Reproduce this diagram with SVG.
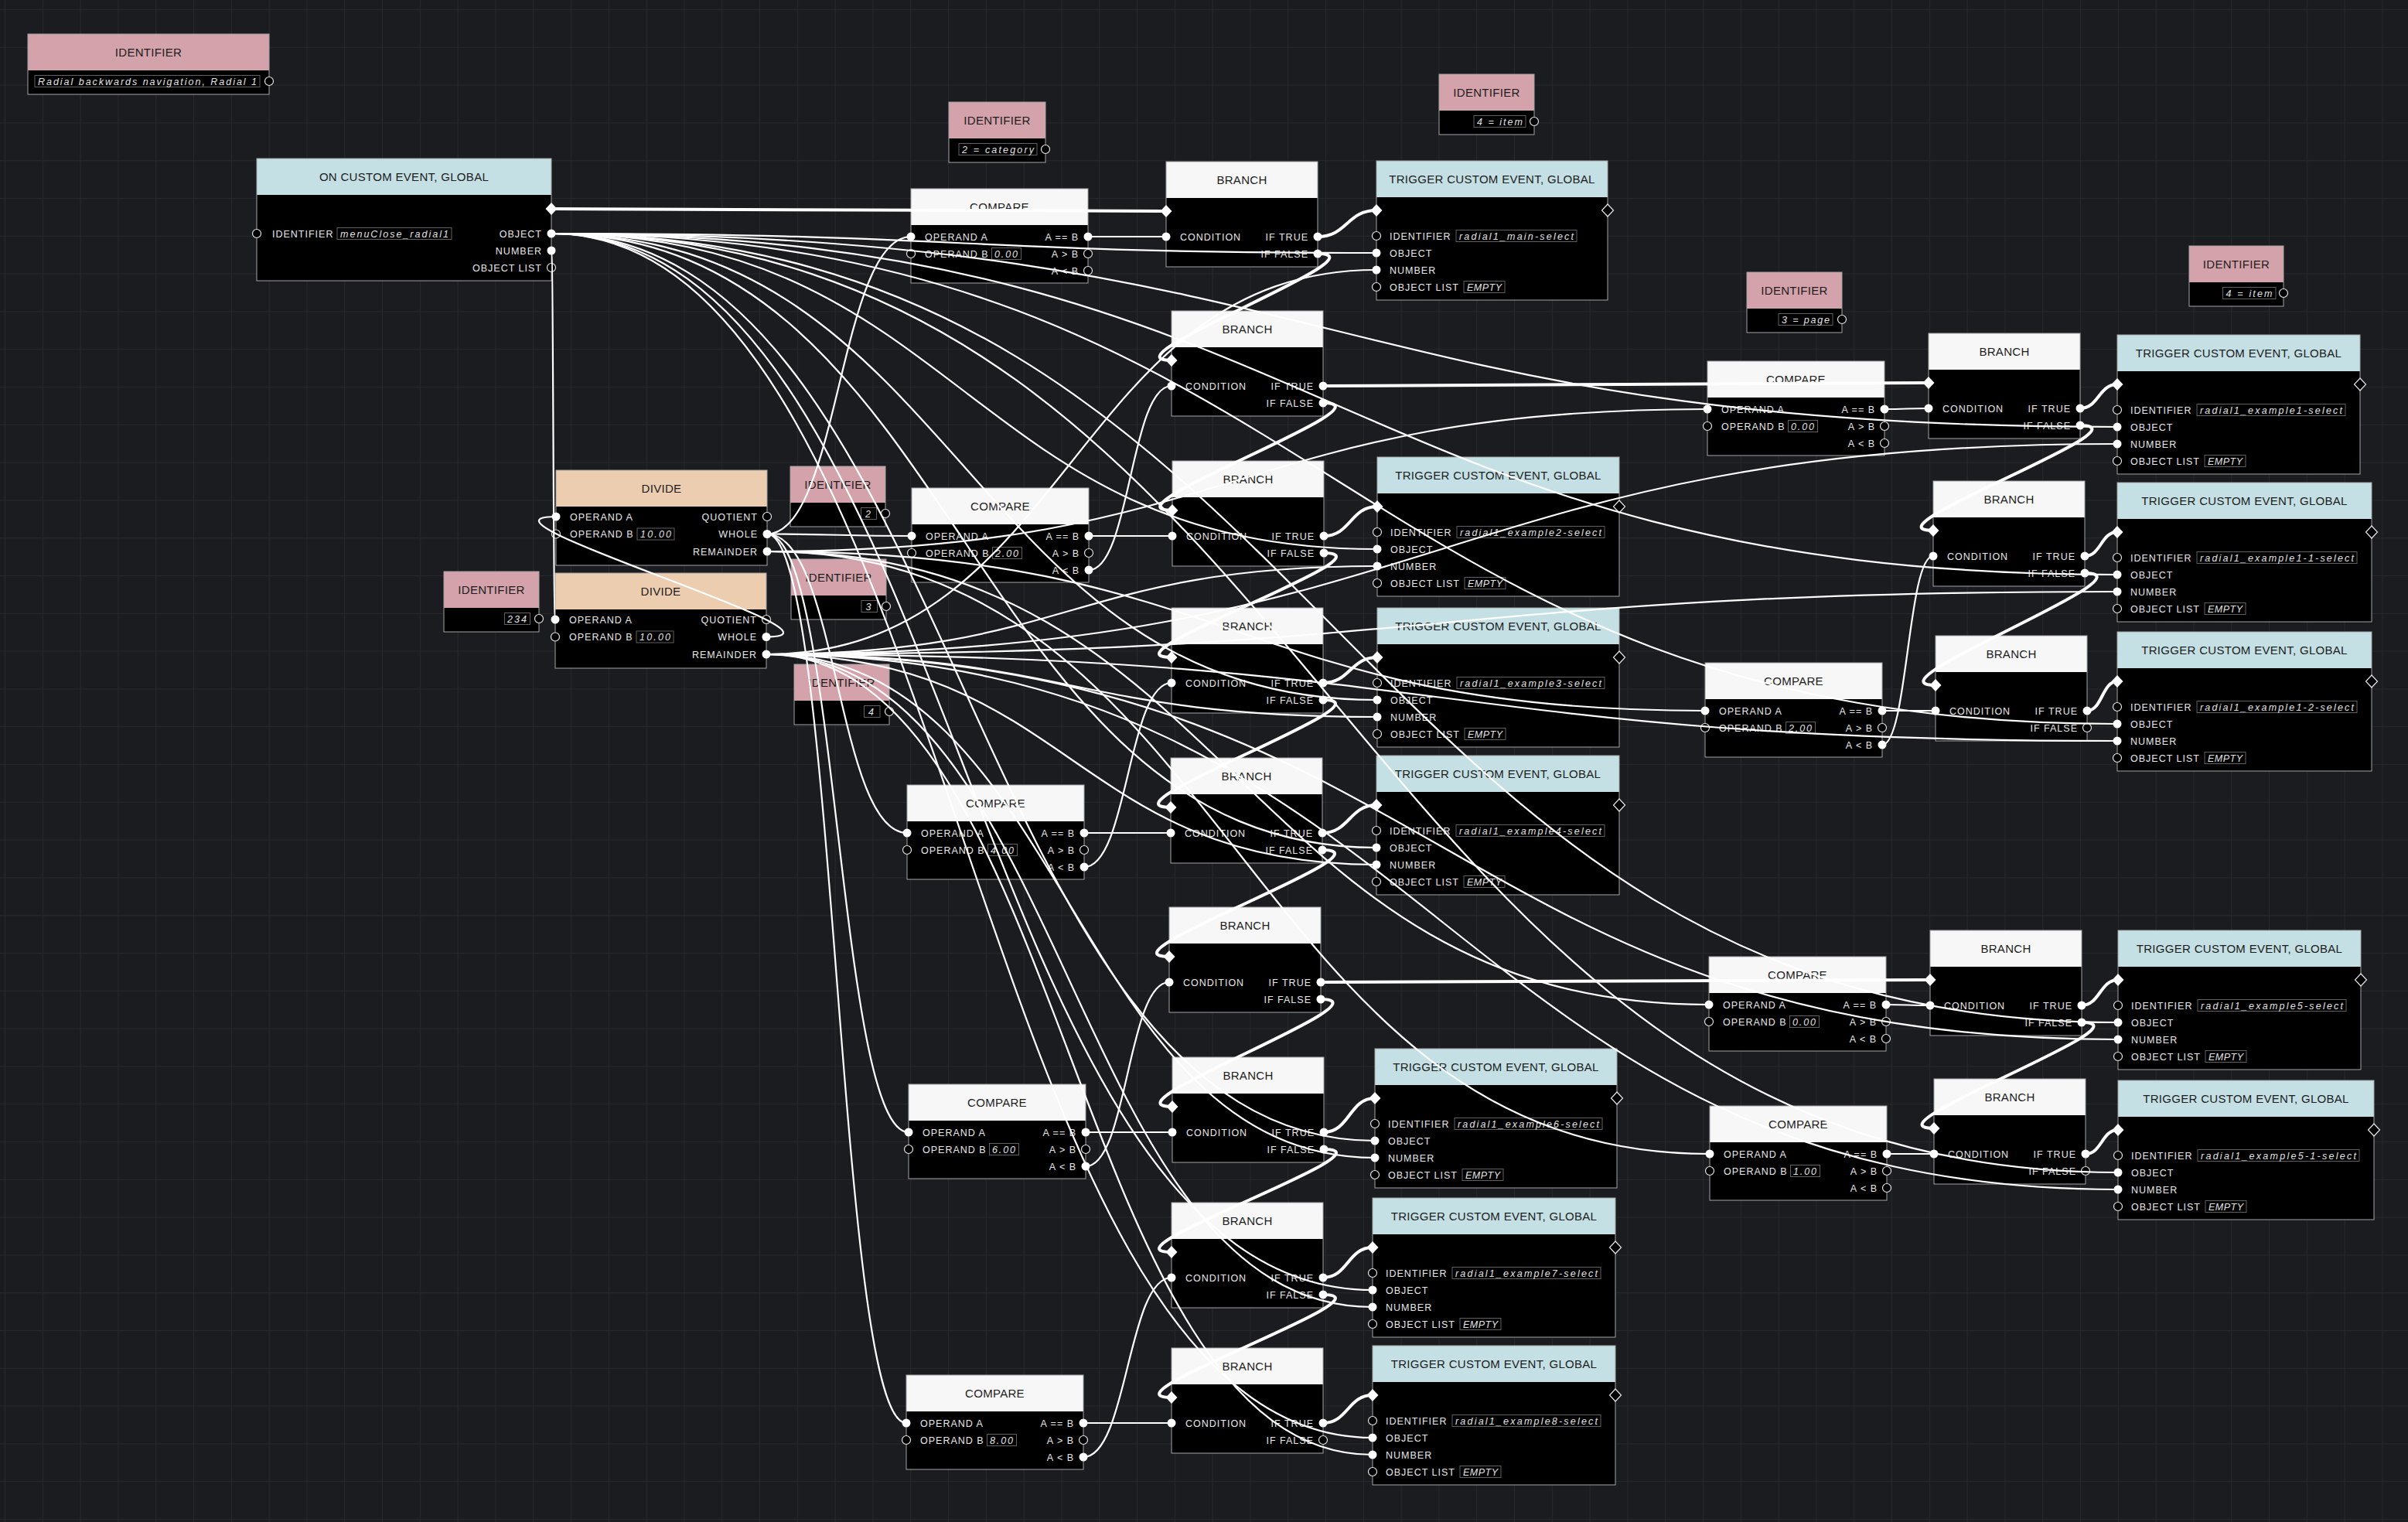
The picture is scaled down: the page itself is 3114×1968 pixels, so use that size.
<svg xmlns="http://www.w3.org/2000/svg" xmlns:xlink="http://www.w3.org/1999/xlink" width="3114" height="1968" viewBox="0 0 3114 1968">
<style>
.hw{fill:#f7f7f7}.hb{fill:#c4e0e4}.hp{fill:#d4a2aa}.hd{fill:#eccdb0}.bd{fill:#000}
.fr{fill:none;stroke:#a4a4a4;stroke-width:1}
.ht{font-family:"Liberation Sans",Arial,sans-serif;font-size:15px;fill:#1c1c1c;text-anchor:middle;letter-spacing:0.3px}
.lb{font-family:"Liberation Sans",Arial,sans-serif;font-size:12.5px;fill:#e8e8e8;letter-spacing:1px}
.lr{text-anchor:end}
.vb{fill:none;stroke:#606060;stroke-width:1}
.vt{font-family:"Liberation Sans",Arial,sans-serif;font-size:12.5px;font-style:italic;fill:#e2e2e2}
.pf{fill:#fff}
.ph{fill:#000;stroke:#e6e6e6;stroke-width:1.2}
.wd{fill:none;stroke:#fff;stroke-width:2.2}
.wf{fill:none;stroke:#fff;stroke-width:4}
</style>
<defs>
<pattern id="grid" x="6" y="12" width="48.8" height="48.8" patternUnits="userSpaceOnUse"><path d="M0 0H48.8M0 0V48.8" fill="none" stroke="#26282c" stroke-width="2"/></pattern>
<path id="dm" d="M0 -8L7.5 0L0 8L-7.5 0Z"/>
</defs>
<rect width="3114" height="1968" fill="#1b1c1f"/>
<rect width="3114" height="1968" fill="url(#grid)"/>

<g id="nodes">
<g id="id-title" transform="translate(36,44)">
<rect class="hp" width="312" height="47"/><rect class="bd" y="47" width="312" height="31"/><rect class="fr" width="312" height="78"/>
<text class="ht" x="156" y="29">IDENTIFIER</text>
<rect class="vb" x="9" y="53.5" width="291" height="15"/>
<text class="vt" x="13" y="65.5" textLength="283">Radial backwards navigation, Radial 1</text>
<circle class="ph" cx="312" cy="61" r="5.5"/>
</g>
<g id="id-category" transform="translate(1227,132)">
<rect class="hp" width="125" height="47"/><rect class="bd" y="47" width="125" height="31"/><rect class="fr" width="125" height="78"/>
<text class="ht" x="62.5" y="29">IDENTIFIER</text>
<rect class="vb" x="13" y="53.5" width="101" height="15"/>
<text class="vt" x="17" y="65.5" textLength="93">2 = category</text>
<circle class="ph" cx="125" cy="61" r="5.5"/>
</g>
<g id="id-item-a" transform="translate(1861,96)">
<rect class="hp" width="123" height="47"/><rect class="bd" y="47" width="123" height="31"/><rect class="fr" width="123" height="78"/>
<text class="ht" x="61.5" y="29">IDENTIFIER</text>
<rect class="vb" x="45" y="53.5" width="67" height="15"/>
<text class="vt" x="49" y="65.5" textLength="59">4 = item</text>
<circle class="ph" cx="123" cy="61" r="5.5"/>
</g>
<g id="id-page" transform="translate(2259,352)">
<rect class="hp" width="123" height="47"/><rect class="bd" y="47" width="123" height="31"/><rect class="fr" width="123" height="78"/>
<text class="ht" x="61.5" y="29">IDENTIFIER</text>
<rect class="vb" x="41" y="53.5" width="70" height="15"/>
<text class="vt" x="45" y="65.5" textLength="62">3 = page</text>
<circle class="ph" cx="123" cy="61" r="5.5"/>
</g>
<g id="id-item-b" transform="translate(2831,318)">
<rect class="hp" width="122" height="47"/><rect class="bd" y="47" width="122" height="31"/><rect class="fr" width="122" height="78"/>
<text class="ht" x="61" y="29">IDENTIFIER</text>
<rect class="vb" x="43.5" y="53.5" width="68.5" height="15"/>
<text class="vt" x="47.5" y="65.5" textLength="60">4 = item</text>
<circle class="ph" cx="122" cy="61" r="5.5"/>
</g>
<g id="id-234" transform="translate(574,739)">
<rect class="hp" width="123" height="47"/><rect class="bd" y="47" width="123" height="31"/><rect class="fr" width="123" height="78"/>
<text class="ht" x="61.5" y="29">IDENTIFIER</text>
<rect class="vb" x="78.5" y="53.5" width="33" height="15"/>
<text class="vt" x="82" y="65.5" textLength="25">234</text>
<circle class="ph" cx="123" cy="61" r="5.5"/>
</g>
<g id="id-2" transform="translate(1022,603)">
<rect class="hp" width="123" height="47"/><rect class="bd" y="47" width="123" height="31"/><rect class="fr" width="123" height="78"/>
<text class="ht" x="61.5" y="29">IDENTIFIER</text>
<rect class="vb" x="91.5" y="53.5" width="20" height="15"/>
<text class="vt" x="97" y="65.5">2</text>
<circle class="ph" cx="123" cy="61" r="5.5"/>
</g>
<g id="id-3" transform="translate(1023,723)">
<rect class="hp" width="123" height="47"/><rect class="bd" y="47" width="123" height="31"/><rect class="fr" width="123" height="78"/>
<text class="ht" x="61.5" y="29">IDENTIFIER</text>
<rect class="vb" x="91" y="53.5" width="20.5" height="15"/>
<text class="vt" x="96.5" y="65.5">3</text>
<circle class="ph" cx="123" cy="61" r="5.5"/>
</g>
<g id="id-4" transform="translate(1027,859)">
<rect class="hp" width="123" height="47"/><rect class="bd" y="47" width="123" height="31"/><rect class="fr" width="123" height="78"/>
<text class="ht" x="61.5" y="29">IDENTIFIER</text>
<rect class="vb" x="90.5" y="53.5" width="20.5" height="15"/>
<text class="vt" x="96" y="65.5">4</text>
<circle class="ph" cx="123" cy="61" r="5.5"/>
</g>

<g id="on-custom-event" transform="translate(332,205)">
<rect class="hb" width="381" height="47"/><rect class="bd" y="47" width="381" height="111"/><rect class="fr" width="381" height="158"/>
<text class="ht" x="190.5" y="29">ON CUSTOM EVENT, GLOBAL</text>
<use href="#dm" x="381" y="65" class="pf"/>
<circle class="ph" cx="0" cy="97" r="5.5"/>
<text class="lb" x="20" y="101.5">IDENTIFIER</text>
<rect class="vb" x="104" y="89.5" width="148" height="15"/>
<text class="vt" x="108" y="101.5" textLength="140">menuClose_radial1</text>
<text class="lb lr" x="369" y="101.5">OBJECT</text><circle class="pf" cx="381" cy="97" r="5.5"/>
<text class="lb lr" x="369" y="123.5">NUMBER</text><circle class="pf" cx="381" cy="119" r="5.5"/>
<text class="lb lr" x="369" y="145.5">OBJECT LIST</text><circle class="ph" cx="381" cy="141" r="5.5"/>
</g>

<g id="divide-1" transform="translate(719,608)">
<rect class="hd" width="273" height="47"/><rect class="bd" y="47" width="273" height="76"/><rect class="fr" width="273" height="123"/>
<text class="ht" x="136.5" y="29">DIVIDE</text>
<circle class="pf" cx="0" cy="60" r="5.5"/><text class="lb" x="18" y="64.5">OPERAND A</text>
<circle class="ph" cx="0" cy="82.5" r="5.5"/><text class="lb" x="18" y="87">OPERAND B</text>
<rect class="vb" x="105" y="75" width="48" height="15"/><text class="vt" x="109" y="87" textLength="40">10.00</text>
<text class="lb lr" x="261" y="64.5">QUOTIENT</text><circle class="ph" cx="273" cy="60" r="5.5"/>
<text class="lb lr" x="261" y="87">WHOLE</text><circle class="pf" cx="273" cy="82.5" r="5.5"/>
<text class="lb lr" x="261" y="109.5">REMAINDER</text><circle class="pf" cx="273" cy="105" r="5.5"/>
</g>
<g id="divide-2" transform="translate(718,741)">
<rect class="hd" width="273" height="47"/><rect class="bd" y="47" width="273" height="76"/><rect class="fr" width="273" height="123"/>
<text class="ht" x="136.5" y="29">DIVIDE</text>
<circle class="pf" cx="0" cy="60" r="5.5"/><text class="lb" x="18" y="64.5">OPERAND A</text>
<circle class="ph" cx="0" cy="82.5" r="5.5"/><text class="lb" x="18" y="87">OPERAND B</text>
<rect class="vb" x="105" y="75" width="48" height="15"/><text class="vt" x="109" y="87" textLength="40">10.00</text>
<text class="lb lr" x="261" y="64.5">QUOTIENT</text><circle class="ph" cx="273" cy="60" r="5.5"/>
<text class="lb lr" x="261" y="87">WHOLE</text><circle class="pf" cx="273" cy="82.5" r="5.5"/>
<text class="lb lr" x="261" y="109.5">REMAINDER</text><circle class="pf" cx="273" cy="105" r="5.5"/>
</g>

<g id="compare-m1" transform="translate(1178,244)">
<rect class="hw" width="229" height="47"/><rect class="bd" y="47" width="229" height="75"/><rect class="fr" width="229" height="122"/>
<text class="ht" x="114.5" y="29">COMPARE</text>
<circle class="pf" cx="0" cy="62" r="5.5"/><text class="lb" x="18" y="66.5">OPERAND A</text>
<circle class="ph" cx="0" cy="84" r="5.5"/><text class="lb" x="18" y="88.5">OPERAND B</text>
<rect class="vb" x="104.5" y="76.5" width="38" height="15"/><text class="vt" x="108" y="88.5" textLength="30">0.00</text>
<text class="lb lr" x="217" y="66.5">A == B</text><circle class="pf" cx="229" cy="62" r="5.5"/>
<text class="lb lr" x="217" y="88.5">A &gt; B</text><circle class="ph" cx="229" cy="84" r="5.5"/>
<text class="lb lr" x="217" y="110.5">A &lt; B</text><circle class="ph" cx="229" cy="106" r="5.5"/>
</g>
<g id="compare-m2" transform="translate(1179,631)">
<rect class="hw" width="229" height="47"/><rect class="bd" y="47" width="229" height="75"/><rect class="fr" width="229" height="122"/>
<text class="ht" x="114.5" y="29">COMPARE</text>
<circle class="pf" cx="0" cy="62" r="5.5"/><text class="lb" x="18" y="66.5">OPERAND A</text>
<circle class="ph" cx="0" cy="84" r="5.5"/><text class="lb" x="18" y="88.5">OPERAND B</text>
<rect class="vb" x="104.5" y="76.5" width="38" height="15"/><text class="vt" x="108" y="88.5" textLength="30">2.00</text>
<text class="lb lr" x="217" y="66.5">A == B</text><circle class="pf" cx="229" cy="62" r="5.5"/>
<text class="lb lr" x="217" y="88.5">A &gt; B</text><circle class="ph" cx="229" cy="84" r="5.5"/>
<text class="lb lr" x="217" y="110.5">A &lt; B</text><circle class="pf" cx="229" cy="106" r="5.5"/>
</g>
<g id="compare-m3" transform="translate(1173,1015)">
<rect class="hw" width="229" height="47"/><rect class="bd" y="47" width="229" height="75"/><rect class="fr" width="229" height="122"/>
<text class="ht" x="114.5" y="29">COMPARE</text>
<circle class="pf" cx="0" cy="62" r="5.5"/><text class="lb" x="18" y="66.5">OPERAND A</text>
<circle class="ph" cx="0" cy="84" r="5.5"/><text class="lb" x="18" y="88.5">OPERAND B</text>
<rect class="vb" x="104.5" y="76.5" width="38" height="15"/><text class="vt" x="108" y="88.5" textLength="30">4.00</text>
<text class="lb lr" x="217" y="66.5">A == B</text><circle class="pf" cx="229" cy="62" r="5.5"/>
<text class="lb lr" x="217" y="88.5">A &gt; B</text><circle class="ph" cx="229" cy="84" r="5.5"/>
<text class="lb lr" x="217" y="110.5">A &lt; B</text><circle class="pf" cx="229" cy="106" r="5.5"/>
</g>
<g id="compare-m4" transform="translate(1175,1402)">
<rect class="hw" width="229" height="47"/><rect class="bd" y="47" width="229" height="75"/><rect class="fr" width="229" height="122"/>
<text class="ht" x="114.5" y="29">COMPARE</text>
<circle class="pf" cx="0" cy="62" r="5.5"/><text class="lb" x="18" y="66.5">OPERAND A</text>
<circle class="ph" cx="0" cy="84" r="5.5"/><text class="lb" x="18" y="88.5">OPERAND B</text>
<rect class="vb" x="104.5" y="76.5" width="38" height="15"/><text class="vt" x="108" y="88.5" textLength="30">6.00</text>
<text class="lb lr" x="217" y="66.5">A == B</text><circle class="pf" cx="229" cy="62" r="5.5"/>
<text class="lb lr" x="217" y="88.5">A &gt; B</text><circle class="ph" cx="229" cy="84" r="5.5"/>
<text class="lb lr" x="217" y="110.5">A &lt; B</text><circle class="pf" cx="229" cy="106" r="5.5"/>
</g>
<g id="compare-m5" transform="translate(1172,1778)">
<rect class="hw" width="229" height="47"/><rect class="bd" y="47" width="229" height="75"/><rect class="fr" width="229" height="122"/>
<text class="ht" x="114.5" y="29">COMPARE</text>
<circle class="pf" cx="0" cy="62" r="5.5"/><text class="lb" x="18" y="66.5">OPERAND A</text>
<circle class="ph" cx="0" cy="84" r="5.5"/><text class="lb" x="18" y="88.5">OPERAND B</text>
<rect class="vb" x="104.5" y="76.5" width="38" height="15"/><text class="vt" x="108" y="88.5" textLength="30">8.00</text>
<text class="lb lr" x="217" y="66.5">A == B</text><circle class="pf" cx="229" cy="62" r="5.5"/>
<text class="lb lr" x="217" y="88.5">A &gt; B</text><circle class="ph" cx="229" cy="84" r="5.5"/>
<text class="lb lr" x="217" y="110.5">A &lt; B</text><circle class="pf" cx="229" cy="106" r="5.5"/>
</g>
<g id="compare-r1" transform="translate(2208,467)">
<rect class="hw" width="229" height="47"/><rect class="bd" y="47" width="229" height="75"/><rect class="fr" width="229" height="122"/>
<text class="ht" x="114.5" y="29">COMPARE</text>
<circle class="pf" cx="0" cy="62" r="5.5"/><text class="lb" x="18" y="66.5">OPERAND A</text>
<circle class="ph" cx="0" cy="84" r="5.5"/><text class="lb" x="18" y="88.5">OPERAND B</text>
<rect class="vb" x="104.5" y="76.5" width="38" height="15"/><text class="vt" x="108" y="88.5" textLength="30">0.00</text>
<text class="lb lr" x="217" y="66.5">A == B</text><circle class="pf" cx="229" cy="62" r="5.5"/>
<text class="lb lr" x="217" y="88.5">A &gt; B</text><circle class="ph" cx="229" cy="84" r="5.5"/>
<text class="lb lr" x="217" y="110.5">A &lt; B</text><circle class="ph" cx="229" cy="106" r="5.5"/>
</g>
<g id="compare-r2" transform="translate(2205,857)">
<rect class="hw" width="229" height="47"/><rect class="bd" y="47" width="229" height="75"/><rect class="fr" width="229" height="122"/>
<text class="ht" x="114.5" y="29">COMPARE</text>
<circle class="pf" cx="0" cy="62" r="5.5"/><text class="lb" x="18" y="66.5">OPERAND A</text>
<circle class="ph" cx="0" cy="84" r="5.5"/><text class="lb" x="18" y="88.5">OPERAND B</text>
<rect class="vb" x="104.5" y="76.5" width="38" height="15"/><text class="vt" x="108" y="88.5" textLength="30">2.00</text>
<text class="lb lr" x="217" y="66.5">A == B</text><circle class="pf" cx="229" cy="62" r="5.5"/>
<text class="lb lr" x="217" y="88.5">A &gt; B</text><circle class="ph" cx="229" cy="84" r="5.5"/>
<text class="lb lr" x="217" y="110.5">A &lt; B</text><circle class="pf" cx="229" cy="106" r="5.5"/>
</g>
<g id="compare-r3" transform="translate(2210,1237)">
<rect class="hw" width="229" height="47"/><rect class="bd" y="47" width="229" height="75"/><rect class="fr" width="229" height="122"/>
<text class="ht" x="114.5" y="29">COMPARE</text>
<circle class="pf" cx="0" cy="62" r="5.5"/><text class="lb" x="18" y="66.5">OPERAND A</text>
<circle class="ph" cx="0" cy="84" r="5.5"/><text class="lb" x="18" y="88.5">OPERAND B</text>
<rect class="vb" x="104.5" y="76.5" width="38" height="15"/><text class="vt" x="108" y="88.5" textLength="30">0.00</text>
<text class="lb lr" x="217" y="66.5">A == B</text><circle class="pf" cx="229" cy="62" r="5.5"/>
<text class="lb lr" x="217" y="88.5">A &gt; B</text><circle class="ph" cx="229" cy="84" r="5.5"/>
<text class="lb lr" x="217" y="110.5">A &lt; B</text><circle class="ph" cx="229" cy="106" r="5.5"/>
</g>
<g id="compare-r4" transform="translate(2211,1430)">
<rect class="hw" width="229" height="47"/><rect class="bd" y="47" width="229" height="75"/><rect class="fr" width="229" height="122"/>
<text class="ht" x="114.5" y="29">COMPARE</text>
<circle class="pf" cx="0" cy="62" r="5.5"/><text class="lb" x="18" y="66.5">OPERAND A</text>
<circle class="ph" cx="0" cy="84" r="5.5"/><text class="lb" x="18" y="88.5">OPERAND B</text>
<rect class="vb" x="104.5" y="76.5" width="38" height="15"/><text class="vt" x="108" y="88.5" textLength="30">1.00</text>
<text class="lb lr" x="217" y="66.5">A == B</text><circle class="pf" cx="229" cy="62" r="5.5"/>
<text class="lb lr" x="217" y="88.5">A &gt; B</text><circle class="ph" cx="229" cy="84" r="5.5"/>
<text class="lb lr" x="217" y="110.5">A &lt; B</text><circle class="ph" cx="229" cy="106" r="5.5"/>
</g>

<g id="branch-m1" transform="translate(1508,209)">
<rect class="hw" width="196" height="47"/><rect class="bd" y="47" width="196" height="89"/><rect class="fr" width="196" height="136"/>
<text class="ht" x="98" y="29">BRANCH</text><use href="#dm" x="0" y="64" class="pf"/>
<circle class="pf" cx="0" cy="97" r="5.5"/><text class="lb" x="18" y="101.5">CONDITION</text>
<text class="lb lr" x="184" y="101.5">IF TRUE</text><circle class="pf" cx="196" cy="97" r="5.5"/>
<text class="lb lr" x="184" y="123.5">IF FALSE</text><circle class="pf" cx="196" cy="119" r="5.5"/>
</g>
<g id="branch-m2" transform="translate(1515,402)">
<rect class="hw" width="196" height="47"/><rect class="bd" y="47" width="196" height="89"/><rect class="fr" width="196" height="136"/>
<text class="ht" x="98" y="29">BRANCH</text><use href="#dm" x="0" y="64" class="pf"/>
<circle class="pf" cx="0" cy="97" r="5.5"/><text class="lb" x="18" y="101.5">CONDITION</text>
<text class="lb lr" x="184" y="101.5">IF TRUE</text><circle class="pf" cx="196" cy="97" r="5.5"/>
<text class="lb lr" x="184" y="123.5">IF FALSE</text><circle class="pf" cx="196" cy="119" r="5.5"/>
</g>
<g id="branch-m3" transform="translate(1516,596)">
<rect class="hw" width="196" height="47"/><rect class="bd" y="47" width="196" height="89"/><rect class="fr" width="196" height="136"/>
<text class="ht" x="98" y="29">BRANCH</text><use href="#dm" x="0" y="64" class="pf"/>
<circle class="pf" cx="0" cy="97" r="5.5"/><text class="lb" x="18" y="101.5">CONDITION</text>
<text class="lb lr" x="184" y="101.5">IF TRUE</text><circle class="pf" cx="196" cy="97" r="5.5"/>
<text class="lb lr" x="184" y="123.5">IF FALSE</text><circle class="pf" cx="196" cy="119" r="5.5"/>
</g>
<g id="branch-m4" transform="translate(1515,786)">
<rect class="hw" width="196" height="47"/><rect class="bd" y="47" width="196" height="89"/><rect class="fr" width="196" height="136"/>
<text class="ht" x="98" y="29">BRANCH</text><use href="#dm" x="0" y="64" class="pf"/>
<circle class="pf" cx="0" cy="97" r="5.5"/><text class="lb" x="18" y="101.5">CONDITION</text>
<text class="lb lr" x="184" y="101.5">IF TRUE</text><circle class="pf" cx="196" cy="97" r="5.5"/>
<text class="lb lr" x="184" y="123.5">IF FALSE</text><circle class="pf" cx="196" cy="119" r="5.5"/>
</g>
<g id="branch-m5" transform="translate(1514,980)">
<rect class="hw" width="196" height="47"/><rect class="bd" y="47" width="196" height="89"/><rect class="fr" width="196" height="136"/>
<text class="ht" x="98" y="29">BRANCH</text><use href="#dm" x="0" y="64" class="pf"/>
<circle class="pf" cx="0" cy="97" r="5.5"/><text class="lb" x="18" y="101.5">CONDITION</text>
<text class="lb lr" x="184" y="101.5">IF TRUE</text><circle class="pf" cx="196" cy="97" r="5.5"/>
<text class="lb lr" x="184" y="123.5">IF FALSE</text><circle class="pf" cx="196" cy="119" r="5.5"/>
</g>
<g id="branch-m6" transform="translate(1512,1173)">
<rect class="hw" width="196" height="47"/><rect class="bd" y="47" width="196" height="89"/><rect class="fr" width="196" height="136"/>
<text class="ht" x="98" y="29">BRANCH</text><use href="#dm" x="0" y="64" class="pf"/>
<circle class="pf" cx="0" cy="97" r="5.5"/><text class="lb" x="18" y="101.5">CONDITION</text>
<text class="lb lr" x="184" y="101.5">IF TRUE</text><circle class="pf" cx="196" cy="97" r="5.5"/>
<text class="lb lr" x="184" y="123.5">IF FALSE</text><circle class="pf" cx="196" cy="119" r="5.5"/>
</g>
<g id="branch-m7" transform="translate(1516,1367)">
<rect class="hw" width="196" height="47"/><rect class="bd" y="47" width="196" height="89"/><rect class="fr" width="196" height="136"/>
<text class="ht" x="98" y="29">BRANCH</text><use href="#dm" x="0" y="64" class="pf"/>
<circle class="pf" cx="0" cy="97" r="5.5"/><text class="lb" x="18" y="101.5">CONDITION</text>
<text class="lb lr" x="184" y="101.5">IF TRUE</text><circle class="pf" cx="196" cy="97" r="5.5"/>
<text class="lb lr" x="184" y="123.5">IF FALSE</text><circle class="pf" cx="196" cy="119" r="5.5"/>
</g>
<g id="branch-m8" transform="translate(1515,1555)">
<rect class="hw" width="196" height="47"/><rect class="bd" y="47" width="196" height="89"/><rect class="fr" width="196" height="136"/>
<text class="ht" x="98" y="29">BRANCH</text><use href="#dm" x="0" y="64" class="pf"/>
<circle class="pf" cx="0" cy="97" r="5.5"/><text class="lb" x="18" y="101.5">CONDITION</text>
<text class="lb lr" x="184" y="101.5">IF TRUE</text><circle class="pf" cx="196" cy="97" r="5.5"/>
<text class="lb lr" x="184" y="123.5">IF FALSE</text><circle class="pf" cx="196" cy="119" r="5.5"/>
</g>
<g id="branch-m9" transform="translate(1515,1743)">
<rect class="hw" width="196" height="47"/><rect class="bd" y="47" width="196" height="89"/><rect class="fr" width="196" height="136"/>
<text class="ht" x="98" y="29">BRANCH</text><use href="#dm" x="0" y="64" class="pf"/>
<circle class="pf" cx="0" cy="97" r="5.5"/><text class="lb" x="18" y="101.5">CONDITION</text>
<text class="lb lr" x="184" y="101.5">IF TRUE</text><circle class="pf" cx="196" cy="97" r="5.5"/>
<text class="lb lr" x="184" y="123.5">IF FALSE</text><circle class="ph" cx="196" cy="119" r="5.5"/>
</g>
<g id="branch-r1" transform="translate(2494,431)">
<rect class="hw" width="196" height="47"/><rect class="bd" y="47" width="196" height="89"/><rect class="fr" width="196" height="136"/>
<text class="ht" x="98" y="29">BRANCH</text><use href="#dm" x="0" y="64" class="pf"/>
<circle class="pf" cx="0" cy="97" r="5.5"/><text class="lb" x="18" y="101.5">CONDITION</text>
<text class="lb lr" x="184" y="101.5">IF TRUE</text><circle class="pf" cx="196" cy="97" r="5.5"/>
<text class="lb lr" x="184" y="123.5">IF FALSE</text><circle class="pf" cx="196" cy="119" r="5.5"/>
</g>
<g id="branch-r2" transform="translate(2500,622)">
<rect class="hw" width="196" height="47"/><rect class="bd" y="47" width="196" height="89"/><rect class="fr" width="196" height="136"/>
<text class="ht" x="98" y="29">BRANCH</text><use href="#dm" x="0" y="64" class="pf"/>
<circle class="pf" cx="0" cy="97" r="5.5"/><text class="lb" x="18" y="101.5">CONDITION</text>
<text class="lb lr" x="184" y="101.5">IF TRUE</text><circle class="pf" cx="196" cy="97" r="5.5"/>
<text class="lb lr" x="184" y="123.5">IF FALSE</text><circle class="pf" cx="196" cy="119" r="5.5"/>
</g>
<g id="branch-r3" transform="translate(2503,822)">
<rect class="hw" width="196" height="47"/><rect class="bd" y="47" width="196" height="89"/><rect class="fr" width="196" height="136"/>
<text class="ht" x="98" y="29">BRANCH</text><use href="#dm" x="0" y="64" class="pf"/>
<circle class="pf" cx="0" cy="97" r="5.5"/><text class="lb" x="18" y="101.5">CONDITION</text>
<text class="lb lr" x="184" y="101.5">IF TRUE</text><circle class="pf" cx="196" cy="97" r="5.5"/>
<text class="lb lr" x="184" y="123.5">IF FALSE</text><circle class="ph" cx="196" cy="119" r="5.5"/>
</g>
<g id="branch-r4" transform="translate(2496,1203)">
<rect class="hw" width="196" height="47"/><rect class="bd" y="47" width="196" height="89"/><rect class="fr" width="196" height="136"/>
<text class="ht" x="98" y="29">BRANCH</text><use href="#dm" x="0" y="64" class="pf"/>
<circle class="pf" cx="0" cy="97" r="5.5"/><text class="lb" x="18" y="101.5">CONDITION</text>
<text class="lb lr" x="184" y="101.5">IF TRUE</text><circle class="pf" cx="196" cy="97" r="5.5"/>
<text class="lb lr" x="184" y="123.5">IF FALSE</text><circle class="pf" cx="196" cy="119" r="5.5"/>
</g>
<g id="branch-r5" transform="translate(2501,1395)">
<rect class="hw" width="196" height="47"/><rect class="bd" y="47" width="196" height="89"/><rect class="fr" width="196" height="136"/>
<text class="ht" x="98" y="29">BRANCH</text><use href="#dm" x="0" y="64" class="pf"/>
<circle class="pf" cx="0" cy="97" r="5.5"/><text class="lb" x="18" y="101.5">CONDITION</text>
<text class="lb lr" x="184" y="101.5">IF TRUE</text><circle class="pf" cx="196" cy="97" r="5.5"/>
<text class="lb lr" x="184" y="123.5">IF FALSE</text><circle class="ph" cx="196" cy="119" r="5.5"/>
</g>

<g id="trigger-m1" transform="translate(1780,208)">
<rect class="hb" width="299" height="47"/><rect class="bd" y="47" width="299" height="133"/><rect class="fr" width="299" height="180"/>
<text class="ht" x="149.5" y="29">TRIGGER CUSTOM EVENT, GLOBAL</text>
<use href="#dm" x="0" y="64" class="pf"/><use href="#dm" x="299" y="64" class="ph"/>
<circle class="ph" cx="0" cy="97" r="5.5"/><text class="lb" x="17" y="101.5">IDENTIFIER</text>
<rect class="vb" x="103" y="89.5" width="156" height="15"/><text class="vt" x="107" y="101.5" textLength="148">radial1_main-select</text>
<circle class="pf" cx="0" cy="119" r="5.5"/><text class="lb" x="17" y="123.5">OBJECT</text>
<circle class="pf" cx="0" cy="141" r="5.5"/><text class="lb" x="17" y="145.5">NUMBER</text>
<circle class="ph" cx="0" cy="163" r="5.5"/><text class="lb" x="17" y="167.5">OBJECT LIST</text>
<rect class="vb" x="113" y="155.5" width="53" height="15"/><text class="vt" x="117" y="167.5" textLength="45">EMPTY</text>
</g>
<g id="trigger-m2" transform="translate(1781,591)">
<rect class="hb" width="313" height="47"/><rect class="bd" y="47" width="313" height="133"/><rect class="fr" width="313" height="180"/>
<text class="ht" x="156.5" y="29">TRIGGER CUSTOM EVENT, GLOBAL</text>
<use href="#dm" x="0" y="64" class="pf"/><use href="#dm" x="313" y="64" class="ph"/>
<circle class="ph" cx="0" cy="97" r="5.5"/><text class="lb" x="17" y="101.5">IDENTIFIER</text>
<rect class="vb" x="103" y="89.5" width="191" height="15"/><text class="vt" x="107" y="101.5" textLength="183">radial1_example2-select</text>
<circle class="pf" cx="0" cy="119" r="5.5"/><text class="lb" x="17" y="123.5">OBJECT</text>
<circle class="pf" cx="0" cy="141" r="5.5"/><text class="lb" x="17" y="145.5">NUMBER</text>
<circle class="ph" cx="0" cy="163" r="5.5"/><text class="lb" x="17" y="167.5">OBJECT LIST</text>
<rect class="vb" x="113" y="155.5" width="53" height="15"/><text class="vt" x="117" y="167.5" textLength="45">EMPTY</text>
</g>
<g id="trigger-m3" transform="translate(1781,786)">
<rect class="hb" width="313" height="47"/><rect class="bd" y="47" width="313" height="133"/><rect class="fr" width="313" height="180"/>
<text class="ht" x="156.5" y="29">TRIGGER CUSTOM EVENT, GLOBAL</text>
<use href="#dm" x="0" y="64" class="pf"/><use href="#dm" x="313" y="64" class="ph"/>
<circle class="ph" cx="0" cy="97" r="5.5"/><text class="lb" x="17" y="101.5">IDENTIFIER</text>
<rect class="vb" x="103" y="89.5" width="191" height="15"/><text class="vt" x="107" y="101.5" textLength="183">radial1_example3-select</text>
<circle class="pf" cx="0" cy="119" r="5.5"/><text class="lb" x="17" y="123.5">OBJECT</text>
<circle class="pf" cx="0" cy="141" r="5.5"/><text class="lb" x="17" y="145.5">NUMBER</text>
<circle class="ph" cx="0" cy="163" r="5.5"/><text class="lb" x="17" y="167.5">OBJECT LIST</text>
<rect class="vb" x="113" y="155.5" width="53" height="15"/><text class="vt" x="117" y="167.5" textLength="45">EMPTY</text>
</g>
<g id="trigger-m4" transform="translate(1780,977)">
<rect class="hb" width="314" height="47"/><rect class="bd" y="47" width="314" height="133"/><rect class="fr" width="314" height="180"/>
<text class="ht" x="157" y="29">TRIGGER CUSTOM EVENT, GLOBAL</text>
<use href="#dm" x="0" y="64" class="pf"/><use href="#dm" x="314" y="64" class="ph"/>
<circle class="ph" cx="0" cy="97" r="5.5"/><text class="lb" x="17" y="101.5">IDENTIFIER</text>
<rect class="vb" x="103" y="89.5" width="192" height="15"/><text class="vt" x="107" y="101.5" textLength="184">radial1_example4-select</text>
<circle class="pf" cx="0" cy="119" r="5.5"/><text class="lb" x="17" y="123.5">OBJECT</text>
<circle class="pf" cx="0" cy="141" r="5.5"/><text class="lb" x="17" y="145.5">NUMBER</text>
<circle class="ph" cx="0" cy="163" r="5.5"/><text class="lb" x="17" y="167.5">OBJECT LIST</text>
<rect class="vb" x="113" y="155.5" width="53" height="15"/><text class="vt" x="117" y="167.5" textLength="45">EMPTY</text>
</g>
<g id="trigger-m5" transform="translate(1778,1356)">
<rect class="hb" width="313" height="47"/><rect class="bd" y="47" width="313" height="133"/><rect class="fr" width="313" height="180"/>
<text class="ht" x="156.5" y="29">TRIGGER CUSTOM EVENT, GLOBAL</text>
<use href="#dm" x="0" y="64" class="pf"/><use href="#dm" x="313" y="64" class="ph"/>
<circle class="ph" cx="0" cy="97" r="5.5"/><text class="lb" x="17" y="101.5">IDENTIFIER</text>
<rect class="vb" x="103" y="89.5" width="191" height="15"/><text class="vt" x="107" y="101.5" textLength="183">radial1_example6-select</text>
<circle class="pf" cx="0" cy="119" r="5.5"/><text class="lb" x="17" y="123.5">OBJECT</text>
<circle class="pf" cx="0" cy="141" r="5.5"/><text class="lb" x="17" y="145.5">NUMBER</text>
<circle class="ph" cx="0" cy="163" r="5.5"/><text class="lb" x="17" y="167.5">OBJECT LIST</text>
<rect class="vb" x="113" y="155.5" width="53" height="15"/><text class="vt" x="117" y="167.5" textLength="45">EMPTY</text>
</g>
<g id="trigger-m6" transform="translate(1775,1549)">
<rect class="hb" width="314" height="47"/><rect class="bd" y="47" width="314" height="133"/><rect class="fr" width="314" height="180"/>
<text class="ht" x="157" y="29">TRIGGER CUSTOM EVENT, GLOBAL</text>
<use href="#dm" x="0" y="64" class="pf"/><use href="#dm" x="314" y="64" class="ph"/>
<circle class="ph" cx="0" cy="97" r="5.5"/><text class="lb" x="17" y="101.5">IDENTIFIER</text>
<rect class="vb" x="103" y="89.5" width="192" height="15"/><text class="vt" x="107" y="101.5" textLength="184">radial1_example7-select</text>
<circle class="pf" cx="0" cy="119" r="5.5"/><text class="lb" x="17" y="123.5">OBJECT</text>
<circle class="pf" cx="0" cy="141" r="5.5"/><text class="lb" x="17" y="145.5">NUMBER</text>
<circle class="ph" cx="0" cy="163" r="5.5"/><text class="lb" x="17" y="167.5">OBJECT LIST</text>
<rect class="vb" x="113" y="155.5" width="53" height="15"/><text class="vt" x="117" y="167.5" textLength="45">EMPTY</text>
</g>
<g id="trigger-m7" transform="translate(1775,1740)">
<rect class="hb" width="314" height="47"/><rect class="bd" y="47" width="314" height="133"/><rect class="fr" width="314" height="180"/>
<text class="ht" x="157" y="29">TRIGGER CUSTOM EVENT, GLOBAL</text>
<use href="#dm" x="0" y="64" class="pf"/><use href="#dm" x="314" y="64" class="ph"/>
<circle class="ph" cx="0" cy="97" r="5.5"/><text class="lb" x="17" y="101.5">IDENTIFIER</text>
<rect class="vb" x="103" y="89.5" width="192" height="15"/><text class="vt" x="107" y="101.5" textLength="184">radial1_example8-select</text>
<circle class="pf" cx="0" cy="119" r="5.5"/><text class="lb" x="17" y="123.5">OBJECT</text>
<circle class="pf" cx="0" cy="141" r="5.5"/><text class="lb" x="17" y="145.5">NUMBER</text>
<circle class="ph" cx="0" cy="163" r="5.5"/><text class="lb" x="17" y="167.5">OBJECT LIST</text>
<rect class="vb" x="113" y="155.5" width="53" height="15"/><text class="vt" x="117" y="167.5" textLength="45">EMPTY</text>
</g>
<g id="trigger-r1" transform="translate(2738,433)">
<rect class="hb" width="314" height="47"/><rect class="bd" y="47" width="314" height="133"/><rect class="fr" width="314" height="180"/>
<text class="ht" x="157" y="29">TRIGGER CUSTOM EVENT, GLOBAL</text>
<use href="#dm" x="0" y="64" class="pf"/><use href="#dm" x="314" y="64" class="ph"/>
<circle class="ph" cx="0" cy="97" r="5.5"/><text class="lb" x="17" y="101.5">IDENTIFIER</text>
<rect class="vb" x="103" y="89.5" width="192" height="15"/><text class="vt" x="107" y="101.5" textLength="184">radial1_example1-select</text>
<circle class="pf" cx="0" cy="119" r="5.5"/><text class="lb" x="17" y="123.5">OBJECT</text>
<circle class="pf" cx="0" cy="141" r="5.5"/><text class="lb" x="17" y="145.5">NUMBER</text>
<circle class="ph" cx="0" cy="163" r="5.5"/><text class="lb" x="17" y="167.5">OBJECT LIST</text>
<rect class="vb" x="113" y="155.5" width="53" height="15"/><text class="vt" x="117" y="167.5" textLength="45">EMPTY</text>
</g>
<g id="trigger-r2" transform="translate(2738,624)">
<rect class="hb" width="329" height="47"/><rect class="bd" y="47" width="329" height="133"/><rect class="fr" width="329" height="180"/>
<text class="ht" x="164.5" y="29">TRIGGER CUSTOM EVENT, GLOBAL</text>
<use href="#dm" x="0" y="64" class="pf"/><use href="#dm" x="329" y="64" class="ph"/>
<circle class="ph" cx="0" cy="97" r="5.5"/><text class="lb" x="17" y="101.5">IDENTIFIER</text>
<rect class="vb" x="103" y="89.5" width="207" height="15"/><text class="vt" x="107" y="101.5" textLength="199">radial1_example1-1-select</text>
<circle class="pf" cx="0" cy="119" r="5.5"/><text class="lb" x="17" y="123.5">OBJECT</text>
<circle class="pf" cx="0" cy="141" r="5.5"/><text class="lb" x="17" y="145.5">NUMBER</text>
<circle class="ph" cx="0" cy="163" r="5.5"/><text class="lb" x="17" y="167.5">OBJECT LIST</text>
<rect class="vb" x="113" y="155.5" width="53" height="15"/><text class="vt" x="117" y="167.5" textLength="45">EMPTY</text>
</g>
<g id="trigger-r3" transform="translate(2738,817)">
<rect class="hb" width="329" height="47"/><rect class="bd" y="47" width="329" height="133"/><rect class="fr" width="329" height="180"/>
<text class="ht" x="164.5" y="29">TRIGGER CUSTOM EVENT, GLOBAL</text>
<use href="#dm" x="0" y="64" class="pf"/><use href="#dm" x="329" y="64" class="ph"/>
<circle class="ph" cx="0" cy="97" r="5.5"/><text class="lb" x="17" y="101.5">IDENTIFIER</text>
<rect class="vb" x="103" y="89.5" width="207" height="15"/><text class="vt" x="107" y="101.5" textLength="199">radial1_example1-2-select</text>
<circle class="pf" cx="0" cy="119" r="5.5"/><text class="lb" x="17" y="123.5">OBJECT</text>
<circle class="pf" cx="0" cy="141" r="5.5"/><text class="lb" x="17" y="145.5">NUMBER</text>
<circle class="ph" cx="0" cy="163" r="5.5"/><text class="lb" x="17" y="167.5">OBJECT LIST</text>
<rect class="vb" x="113" y="155.5" width="53" height="15"/><text class="vt" x="117" y="167.5" textLength="45">EMPTY</text>
</g>
<g id="trigger-r4" transform="translate(2739,1203)">
<rect class="hb" width="314" height="47"/><rect class="bd" y="47" width="314" height="133"/><rect class="fr" width="314" height="180"/>
<text class="ht" x="157" y="29">TRIGGER CUSTOM EVENT, GLOBAL</text>
<use href="#dm" x="0" y="64" class="pf"/><use href="#dm" x="314" y="64" class="ph"/>
<circle class="ph" cx="0" cy="97" r="5.5"/><text class="lb" x="17" y="101.5">IDENTIFIER</text>
<rect class="vb" x="103" y="89.5" width="192" height="15"/><text class="vt" x="107" y="101.5" textLength="184">radial1_example5-select</text>
<circle class="pf" cx="0" cy="119" r="5.5"/><text class="lb" x="17" y="123.5">OBJECT</text>
<circle class="pf" cx="0" cy="141" r="5.5"/><text class="lb" x="17" y="145.5">NUMBER</text>
<circle class="ph" cx="0" cy="163" r="5.5"/><text class="lb" x="17" y="167.5">OBJECT LIST</text>
<rect class="vb" x="113" y="155.5" width="53" height="15"/><text class="vt" x="117" y="167.5" textLength="45">EMPTY</text>
</g>
<g id="trigger-r5" transform="translate(2739,1397)">
<rect class="hb" width="331" height="47"/><rect class="bd" y="47" width="331" height="133"/><rect class="fr" width="331" height="180"/>
<text class="ht" x="165.5" y="29">TRIGGER CUSTOM EVENT, GLOBAL</text>
<use href="#dm" x="0" y="64" class="pf"/><use href="#dm" x="331" y="64" class="ph"/>
<circle class="ph" cx="0" cy="97" r="5.5"/><text class="lb" x="17" y="101.5">IDENTIFIER</text>
<rect class="vb" x="103" y="89.5" width="209" height="15"/><text class="vt" x="107" y="101.5" textLength="201">radial1_example5-1-select</text>
<circle class="pf" cx="0" cy="119" r="5.5"/><text class="lb" x="17" y="123.5">OBJECT</text>
<circle class="pf" cx="0" cy="141" r="5.5"/><text class="lb" x="17" y="145.5">NUMBER</text>
<circle class="ph" cx="0" cy="163" r="5.5"/><text class="lb" x="17" y="167.5">OBJECT LIST</text>
<rect class="vb" x="113" y="155.5" width="53" height="15"/><text class="vt" x="117" y="167.5" textLength="45">EMPTY</text>
</g>
</g>

<g id="connectors">
<path class="wf" d="M713 270C1110.5 270 1110.5 273 1508 273"/>
<path class="wf" d="M1704 306C1742 306 1742 272 1780 272"/>
<path class="wf" d="M1704 328C1798.5 328 1420.5 466 1515 466"/>
<path class="wf" d="M1711 499C2102.5 499 2102.5 495 2494 495"/>
<path class="wf" d="M1711 521C1808.5 521 1418.5 660 1516 660"/>
<path class="wf" d="M1712 693C1746.5 693 1746.5 655 1781 655"/>
<path class="wf" d="M1712 715C1810.5 715 1416.5 850 1515 850"/>
<path class="wf" d="M1711 883C1746 883 1746 850 1781 850"/>
<path class="wf" d="M1711 905C1809.5 905 1415.5 1044 1514 1044"/>
<path class="wf" d="M1710 1077C1745 1077 1745 1041 1780 1041"/>
<path class="wf" d="M1710 1099C1809 1099 1413 1237 1512 1237"/>
<path class="wf" d="M1708 1270C2102 1270 2102 1267 2496 1267"/>
<path class="wf" d="M1708 1292C1804 1292 1420 1431 1516 1431"/>
<path class="wf" d="M1712 1464C1745 1464 1745 1420 1778 1420"/>
<path class="wf" d="M1712 1486C1810.5 1486 1416.5 1619 1515 1619"/>
<path class="wf" d="M1711 1652C1743 1652 1743 1613 1775 1613"/>
<path class="wf" d="M1711 1674C1809 1674 1417 1807 1515 1807"/>
<path class="wf" d="M1711 1840C1743 1840 1743 1804 1775 1804"/>
<path class="wf" d="M2690 528C2714 528 2714 497 2738 497"/>
<path class="wf" d="M2690 550C2785 550 2405 686 2500 686"/>
<path class="wf" d="M2696 719C2717 719 2717 688 2738 688"/>
<path class="wf" d="M2696 741C2792.5 741 2406.5 886 2503 886"/>
<path class="wf" d="M2699 919C2718.5 919 2718.5 881 2738 881"/>
<path class="wf" d="M2692 1300C2715.5 1300 2715.5 1267 2739 1267"/>
<path class="wf" d="M2692 1322C2787.5 1322 2405.5 1459 2501 1459"/>
<path class="wf" d="M2697 1492C2718 1492 2718 1461 2739 1461"/>

<path class="wd" d="M1407 306H1508"/>
<path class="wd" d="M1408 693H1516"/>
<path class="wd" d="M1408 737C1461.5 737 1461.5 499 1515 499"/>
<path class="wd" d="M1402 1077H1514"/>
<path class="wd" d="M1402 1121C1458.5 1121 1458.5 883 1515 883"/>
<path class="wd" d="M1404 1464H1516"/>
<path class="wd" d="M1404 1508C1458 1508 1458 1270 1512 1270"/>
<path class="wd" d="M1401 1840H1515"/>
<path class="wd" d="M1401 1884C1458 1884 1458 1652 1515 1652"/>
<path class="wd" d="M2437 529C2465.5 529 2465.5 528 2494 528"/>
<path class="wd" d="M2434 919H2503"/>
<path class="wd" d="M2434 963C2467 963 2467 719 2500 719"/>
<path class="wd" d="M2439 1299C2467.5 1299 2467.5 1300 2496 1300"/>
<path class="wd" d="M2440 1492H2501"/>

<path class="wd" d="M713 324C715.5 324 715.5 801 718 801"/>
<path class="wd" d="M991 823.5C1127 823.5 583 668 719 668"/>
<path class="wd" d="M992 690.5C1085 690.5 1085 306 1178 306"/>
<path class="wd" d="M992 690.5C1085.5 690.5 1085.5 693 1179 693"/>
<path class="wd" d="M992 690.5C1082.5 690.5 1082.5 1077 1173 1077"/>
<path class="wd" d="M992 690.5C1083.5 690.5 1083.5 1464 1175 1464"/>
<path class="wd" d="M992 690.5C1082 690.5 1082 1840 1172 1840"/>
<path class="wd" d="M992 713C1600 713 1600 529 2208 529"/>
<path class="wd" d="M992 713C1598.5 713 1598.5 919 2205 919"/>
<path class="wd" d="M992 713C1601 713 1601 1299 2210 1299"/>
<path class="wd" d="M992 713C1601.5 713 1601.5 1492 2211 1492"/>

<path class="wd" d="M713 302C1246.5 302 1246.5 327 1780 327"/>
<path class="wd" d="M713 302C1247 302 1247 710 1781 710"/>
<path class="wd" d="M713 302C1247 302 1247 905 1781 905"/>
<path class="wd" d="M713 302C1246.5 302 1246.5 1096 1780 1096"/>
<path class="wd" d="M713 302C1245.5 302 1245.5 1475 1778 1475"/>
<path class="wd" d="M713 302C1244 302 1244 1668 1775 1668"/>
<path class="wd" d="M713 302C1244 302 1244 1859 1775 1859"/>
<path class="wd" d="M713 302C1725.5 302 1725.5 552 2738 552"/>
<path class="wd" d="M713 302C1725.5 302 1725.5 743 2738 743"/>
<path class="wd" d="M713 302C1725.5 302 1725.5 936 2738 936"/>
<path class="wd" d="M713 302C1726 302 1726 1322 2739 1322"/>
<path class="wd" d="M713 302C1726 302 1726 1516 2739 1516"/>

<path class="wd" d="M991 846C1385.5 846 1385.5 349 1780 349"/>
<path class="wd" d="M991 846C1386 846 1386 732 1781 732"/>
<path class="wd" d="M991 846C1386 846 1386 927 1781 927"/>
<path class="wd" d="M991 846C1385.5 846 1385.5 1118 1780 1118"/>
<path class="wd" d="M991 846C1384.5 846 1384.5 1497 1778 1497"/>
<path class="wd" d="M991 846C1383 846 1383 1690 1775 1690"/>
<path class="wd" d="M991 846C1383 846 1383 1881 1775 1881"/>
<path class="wd" d="M991 846C1864.5 846 1864.5 574 2738 574"/>
<path class="wd" d="M991 846C1864.5 846 1864.5 765 2738 765"/>
<path class="wd" d="M991 846C1864.5 846 1864.5 958 2738 958"/>
<path class="wd" d="M991 846C1865 846 1865 1344 2739 1344"/>
<path class="wd" d="M991 846C1865 846 1865 1538 2739 1538"/>
</g>
</svg>
